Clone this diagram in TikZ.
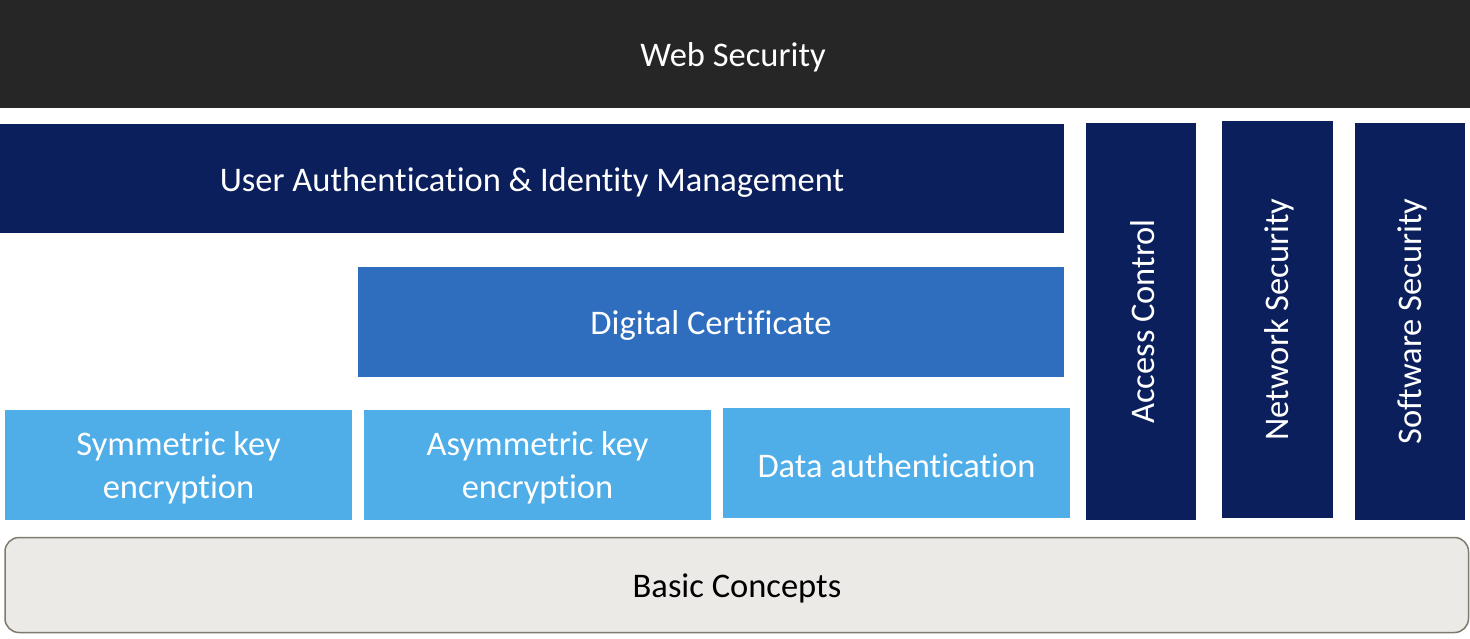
\documentclass[tikz,border=0pt]{standalone}
\usepackage{fontspec}
\setmainfont[Ligatures=NoCommon]{Carlito}
\definecolor{topbar}{HTML}{262626}
\definecolor{navy}{HTML}{0A1F5B}
\definecolor{midblue}{HTML}{2F6EBE}
\definecolor{lightblue}{HTML}{4FADE8}
\definecolor{basefill}{HTML}{ECEAE6}
\definecolor{baseline}{HTML}{7F7A6E}
\begin{document}
\begin{tikzpicture}[x=1pt,y=-1pt,
  blk/.style={inner sep=0pt,outer sep=0pt,text=white,font=\fontsize{34.5}{43}\selectfont,align=center},
]
\useasboundingbox (0,0) rectangle (1470,638);
\fill[white] (0,0) rectangle (1470,638);
% top bar
\fill[topbar] (0,0) rectangle (1470,108);
\node[blk] (web) at (733,57) {Web Security};
% user auth
\fill[navy] (0,124) rectangle (1064,233);
\node[blk] (uaim) at (532,182) {User Authentication \& Identity Management};
% digital certificate
\fill[midblue] (358,267) rectangle (1064,377);
\node[blk] (dc) at (711,325) {Digital Certificate};
% bottom blocks
\fill[lightblue] (5,410) rectangle (352,520);
\node[blk] (sym) at (178.5,468) {Symmetric key\\encryption};
\fill[lightblue] (364,410) rectangle (711,520);
\node[blk] (asym) at (537.5,468) {Asymmetric key\\encryption};
\fill[lightblue] (723,408) rectangle (1070,518);
\node[blk] (da) at (896.5,466) {Data authentication};
% vertical
\fill[navy] (1086,123) rectangle (1196,520);
\node[blk,rotate=90] (ac) at (1143,321.5) {Access Control};
\fill[navy] (1222,121) rectangle (1333,518);
\node[blk,rotate=90] (ns) at (1279.5,319.5) {Network Security};
\fill[navy] (1355,123) rectangle (1465,520);
\node[blk,rotate=90] (ss) at (1412,321.5) {Software Security};
% basic concepts
\draw[fill=basefill,draw=baseline,line width=1.5pt,rounded corners=14pt] (5,537.5) rectangle (1468.5,632.5);
\node[blk,text=black] (bc) at (737,588) {Basic Concepts};
\end{tikzpicture}
\end{document}
